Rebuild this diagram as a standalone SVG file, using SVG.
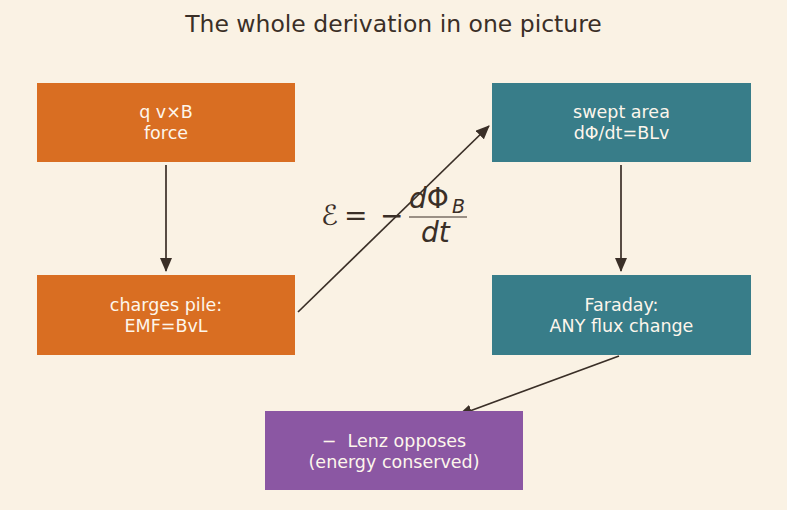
<svg xmlns="http://www.w3.org/2000/svg" width="787" height="510" viewBox="0 0 787 510">
<defs>
<marker id="ah" markerWidth="14" markerHeight="12" refX="13" refY="6" orient="auto" markerUnits="userSpaceOnUse">
<path d="M0,0 L14,6 L0,12 Z" fill="#3a2f27"/>
</marker>
<style>
.lbl{font-family:"DejaVu Sans",sans-serif;font-size:17.5px;fill:#fdf6ec;text-anchor:middle;white-space:pre}
.edge{stroke:#3a2f27;stroke-width:1.7;fill:none;marker-end:url(#ah)}
.m{font-family:"DejaVu Sans",sans-serif;fill:#3a2f27;font-size:28px}
.i{font-style:italic}
</style>
</defs>
<rect width="787" height="510" fill="#faf2e4"/>
<text x="393.5" y="32" font-family="DejaVu Sans,sans-serif" font-size="23.5" fill="#3a2f27" text-anchor="middle">The whole derivation in one picture</text>
<g id="connectors">
<line class="edge" x1="166" y1="165" x2="166" y2="271"/>
<line class="edge" x1="298" y1="312" x2="489" y2="126"/>
<line class="edge" x1="621" y1="165" x2="621" y2="271"/>
<line class="edge" x1="619" y1="356" x2="459" y2="415"/>
</g>
<g id="force"><rect x="37" y="83" width="258" height="79" fill="#d96e22"/><text class="lbl" x="166" y="118">q v×B</text><text class="lbl" x="166" y="139">force</text></g>
<g id="charges"><rect x="37" y="275" width="258" height="80" fill="#d96e22"/><text class="lbl" x="166" y="311">charges pile:</text><text class="lbl" x="166" y="332">EMF=BvL</text></g>
<g id="swept"><rect x="492" y="83" width="259" height="79" fill="#387d89"/><text class="lbl" x="621.5" y="118">swept area</text><text class="lbl" x="621.5" y="139">dΦ/dt=BLv</text></g>
<g id="faraday"><rect x="492" y="275" width="259" height="80" fill="#387d89"/><text class="lbl" x="621.5" y="311">Faraday:</text><text class="lbl" x="621.5" y="332">ANY flux change</text></g>
<g id="lenz"><rect x="265" y="411" width="258" height="79" fill="#8b57a3"/><text class="lbl" x="394" y="447" xml:space="preserve">−  Lenz opposes</text><text class="lbl" x="394" y="468">(energy conserved)</text></g>
<g id="formula">
<text class="m i" x="321" y="225">ℰ</text>
<text class="m" x="344" y="225">=</text>
<text class="m" x="380" y="225">−</text>
<text class="m" x="409" y="208"><tspan class="i">d</tspan>Φ</text>
<text class="m i" x="452" y="213" style="font-size:19px">B</text>
<line x1="409" y1="217" x2="467" y2="217" stroke="#3a2f27" stroke-width="1.2"/>
<text class="m i" x="421" y="242">dt</text>
</g>
</svg>
